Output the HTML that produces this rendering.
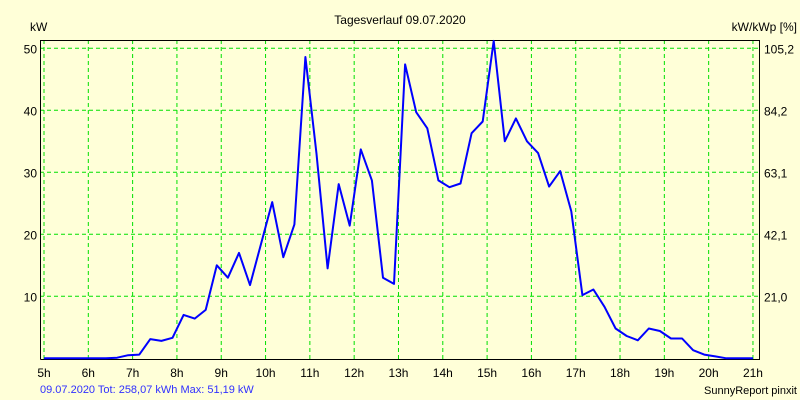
<!DOCTYPE html>
<html><head><meta charset="utf-8"><style>
body{margin:0;background:#FFFFD8;}
svg{display:block;font-family:"Liberation Sans",sans-serif;}
</style></head><body>
<svg id="chart" width="800" height="400" viewBox="0 0 800 400">
<rect x="0" y="0" width="800" height="400" fill="#FFFFD8"/>
<text x="400" y="24" text-anchor="middle" font-size="12" fill="#000">Tagesverlauf 09.07.2020</text>
<text x="30" y="31" font-size="12" fill="#000">kW</text>
<text x="797" y="31" text-anchor="end" font-size="12" fill="#000">kW/kWp [%]</text>
<g id="grid"></g>
<g id="axes"></g>
<g id="series"></g>
<text x="40" y="393" font-size="11" fill="#3030ff">09.07.2020 Tot: 258,07 kWh Max: 51,19 kW</text>
<text x="797" y="394" text-anchor="end" font-size="11" fill="#000">SunnyReport pinxit</text>
</svg>
<script>
const hourTicks = [5,6,7,8,9,10,11,12,13,14,15,16,17,18,19,20,21];
const leftTicks = [10,20,30,40,50];
const rightTickLabels = ["21,0","42,1","63,1","84,2","105,2"];
const startHour = 6.65;
const stepHours = 0.25;
const powerKw = [0.1,0.5,0.6,3.1,2.8,3.3,7,6.4,7.8,15,13,17,11.8,18.5,25.2,16.3,21.6,48.6,33,14.5,28.1,21.4,33.7,28.7,13,12,47.4,39.7,37.1,28.7,27.6,28.2,36.3,38.2,51.2,35,38.7,35,33.1,27.7,30.2,23.7,10.2,11.1,8.3,4.8,3.6,2.9,4.8,4.4,3.2,3.2,1.3,0.6,0.3,0];

const NS="http://www.w3.org/2000/svg";
const X0=44, PXH=44.31, Y0=358.3, PXK=6.2;
const xs=h=>X0+(h-5)*PXH;
const ys=v=>Y0-v*PXK;
function mk(tag,attrs,parent){const e=document.createElementNS(NS,tag);for(const k in attrs)e.setAttribute(k,attrs[k]);parent.appendChild(e);return e;}
const grid=document.getElementById('grid'), axes=document.getElementById('axes'), ser=document.getElementById('series');
hourTicks.forEach(h=>{
  const l=mk('line',{x1:xs(h),x2:xs(h),y1:40,y2:359,stroke:'#00e000','stroke-width':1,'stroke-dasharray':'4,3'},grid);
  
  
  const t=mk('text',{x:xs(h),y:377,'text-anchor':'middle','font-size':12,fill:'#000'},axes);
  t.textContent=h+'h';
  
  
});
leftTicks.forEach((v,i)=>{
  const l=mk('line',{x1:40,x2:760,y1:ys(v),y2:ys(v),stroke:'#00e000','stroke-width':1,'stroke-dasharray':'4,3'},grid);
  
  
  const t=mk('text',{x:37,y:ys(v)+5,'text-anchor':'end','font-size':12,fill:'#000'},axes);
  t.textContent=v;
  
  
  const r=mk('text',{x:764,y:ys(v)+5,'font-size':12,fill:'#000'},axes);
  r.textContent=rightTickLabels[i];
  
  
});
const frame=mk('path',{d:'M40.5,359.5 V40.5 H759.5 V359.5 H40.5',fill:'none',stroke:'#000','stroke-width':1},axes);


const pts=[[xs(5),ys(0)],[xs(startHour-stepHours),ys(0)]];
powerKw.forEach((v,i)=>pts.push([xs(startHour+i*stepHours),ys(v)]));
pts.push([xs(21),ys(0)]);
const pl=mk('polyline',{points:pts.map(p=>p[0].toFixed(1)+','+p[1].toFixed(1)).join(' '),fill:'none',stroke:'#0000ff','stroke-width':2,'stroke-linejoin':'round'},ser);


</script>
</body></html>
